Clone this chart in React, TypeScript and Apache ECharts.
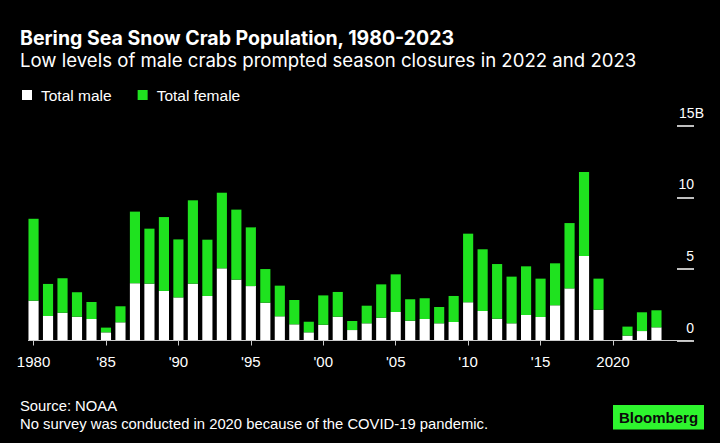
import React, { useEffect, useRef } from "react";
import * as echarts from "echarts";

const years: string[] = [];
for (let y = 1980; y <= 2023; y++) years.push(String(y));

// Billions of crabs
const male: (number | null)[] = [
  2.78, 1.71, 1.94, 1.66, 1.5, 0.57, 1.27, 4.0, 3.97, 3.46,
  3.01, 3.97, 3.11, 5.04, 4.25, 3.8, 2.64, 1.69, 1.13, 0.57,
  1.1, 1.66, 0.73, 1.2, 1.59, 1.99, 1.38, 1.5, 1.2, 1.29,
  2.67, 2.06, 1.52, 1.2, 1.78, 1.64, 2.46, 3.64, 5.9, 2.15,
  null, 0.34, 0.66, 0.92,
];
const female: (number | null)[] = [
  5.72, 2.24, 2.4, 1.71, 1.19, 0.33, 1.12, 5.0, 3.84, 5.16,
  4.05, 5.82, 3.93, 5.28, 4.89, 4.1, 2.35, 2.14, 1.7, 0.74,
  2.05, 1.73, 0.63, 1.23, 2.33, 2.63, 1.5, 1.45, 1.14, 1.82,
  4.79, 4.31, 3.82, 3.26, 3.4, 2.68, 2.93, 4.56, 5.87, 2.17,
  null, 0.63, 1.31, 1.19,
];

const titleText = "Bering Sea Snow Crab Population, 1980-2023";
const subtitleText = "Low levels of male crabs prompted season closures in 2022 and 2023";
const sourceText = "Source: NOAA";
const noteText = "No survey was conducted in 2020 because of the COVID-19 pandemic.";

const GREEN = "#1fe21f";
const SANS = "'Liberation Sans', Arial, sans-serif";
const HEAD = "Inter, 'Liberation Sans', sans-serif";

export default function App() {
  const ref = useRef<HTMLDivElement>(null);
  useEffect(() => {
    if (!ref.current) return;
    const chart = echarts.init(ref.current, null, { renderer: "svg" });
    const every5 = (i: number) => i % 5 === 0;
    chart.setOption({
      animation: false,
      backgroundColor: "#000",
      title: [
        { text: titleText, left: 15, top: 22.5, textStyle: { color: "#fff", fontFamily: HEAD, fontWeight: "bold", fontSize: 19.5 } },
        { text: subtitleText, left: 15, top: 45.5, textStyle: { color: "#fff", fontFamily: HEAD, fontWeight: "normal", fontSize: 18.6 } },
        { text: sourceText, left: 15, top: 393.5, textStyle: { color: "#fff", fontFamily: SANS, fontWeight: "normal", fontSize: 14.8 } },
        { text: noteText, left: 15, top: 411, textStyle: { color: "#fff", fontFamily: SANS, fontWeight: "normal", fontSize: 14.8 } },
      ],
      legend: {
        left: 17,
        top: 82,
        icon: "rect",
        itemWidth: 10,
        itemHeight: 10,
        itemGap: 26,
        selectedMode: false,
        textStyle: { color: "#fff", fontFamily: SANS, fontSize: 15.5, padding: [0, 0, 0, 4] },
        data: ["Total male", "Total female"],
      },
      grid: { left: 26.3, right: 56.3, top: 125.7, bottom: 102.5 },
      xAxis: {
        type: "category",
        data: years,
        axisLine: { show: false },
        axisTick: { show: true, alignWithLabel: true, interval: every5, length: 5, lineStyle: { color: "#ccc" } },
        axisLabel: {
          interval: every5,
          margin: 13,
          color: "#fff",
          fontFamily: SANS,
          fontSize: 15,
          formatter: (v: string) => (v === "1980" || v === "2020" ? v : "'" + v.slice(2)),
        },
      },
      yAxis: {
        type: "value",
        position: "right",
        offset: 30.3,
        min: 0,
        max: 15,
        interval: 5,
        splitLine: { show: false },
        axisLine: { show: false },
        axisTick: { show: true, inside: true, length: 17, lineStyle: { color: "#fff", width: 1.5 } },
        axisLabel: {
          inside: true,
          margin: -10,
          verticalAlign: "bottom",
          align: "right",
          color: "#fff",
          fontFamily: SANS,
          fontSize: 14,
          formatter: (v: number) => (v === 15 ? "{u|15B}" : "{n|" + v + "}"),
          rich: {
            n: { padding: [0, 10, 6, 0], color: "#fff", fontFamily: SANS, fontSize: 14 },
            u: { padding: [0, 0, 6, 0], color: "#fff", fontFamily: SANS, fontSize: 14 },
          },
        },
      },
      series: [
        { name: "Total male", type: "bar", stack: "t", data: male, barWidth: "70%", itemStyle: { color: "#fff" } },
        { name: "Total female", type: "bar", stack: "t", data: female, barWidth: "70%", itemStyle: { color: GREEN } },
      ],
      graphic: [
        { type: "line", shape: { x1: 28, y1: 340.5, x2: 692, y2: 340.5 }, style: { stroke: "#ccc", lineWidth: 1 }, z: 10 },
        {
          type: "group",
          left: 613,
          top: 405,
          children: [
            { type: "rect", shape: { x: 0, y: 0, width: 91, height: 24.5 }, style: { fill: "#2ef52e" } },
            {
              type: "text",
              x: 45.5,
              y: 12.5,
              style: { text: "Bloomberg", fill: "#0a0a0a", font: "bold 15px 'Liberation Sans', Arial, sans-serif", align: "center", verticalAlign: "middle" },
            },
          ],
        },
      ],
    });
    return () => chart.dispose();
  }, []);
  return <div ref={ref} style={{ position: "fixed", left: 0, top: 0, width: 720, height: 443 }} />;
}
